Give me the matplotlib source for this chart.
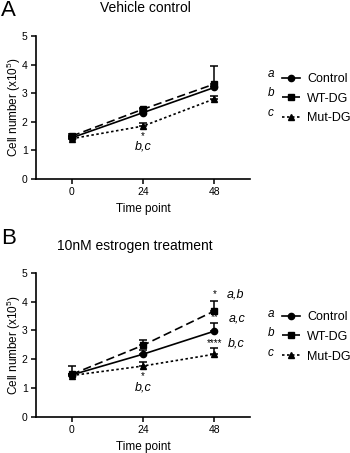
import matplotlib
matplotlib.use("Agg")
import matplotlib.pyplot as plt
import numpy as np

plt.rcParams['font.family'] = ['Liberation Sans', 'DejaVu Sans']
plt.rcParams['mathtext.fontset'] = 'custom'
plt.rcParams['mathtext.rm'] = 'Liberation Sans'

time_points = [0, 24, 48]
series_names = ["Control", "WT-DG", "Mut-DG"]
series_letters = ["a", "b", "c"]

# Panel A: Vehicle control (mean, upper SEM)
a_control = [1.44, 2.32, 3.20]
a_control_err = [0.05, 0.06, 0.06]
a_wtdg = [1.50, 2.44, 3.32]
a_wtdg_err = [0.06, 0.06, 0.62]
a_mutdg = [1.41, 1.85, 2.80]
a_mutdg_err = [0.05, 0.11, 0.09]

# Panel B: 10nM estrogen treatment (mean, upper SEM)
b_control = [1.45, 2.17, 2.97]
b_control_err = [0.05, 0.16, 0.28]
b_wtdg = [1.47, 2.48, 3.67]
b_wtdg_err = [0.30, 0.18, 0.34]
b_mutdg = [1.43, 1.76, 2.17]
b_mutdg_err = [0.05, 0.15, 0.20]

yticks = [0, 1, 2, 3, 4, 5]

W, H = 350, 453
fig = plt.figure(figsize=(W / 100, H / 100), dpi=100)

def fx(px):
    return px / W

def fy(py):
    return 1 - py / H

styles = [
    dict(ls='-', marker='o', ms=4.5),
    dict(ls=(0, (5, 2.5)), marker='s', ms=4.5),
    dict(ls=(0, (1.5, 1.5)), marker='^', ms=4.5),
]

def panel(ax, data):
    handles = []
    for (vals, errs), st, name in zip(data, styles, series_names):
        h = ax.errorbar(time_points, vals, yerr=[np.zeros(len(errs)), errs],
                        color='black', lw=1.2,
                        ls=st['ls'], marker=st['marker'], ms=st['ms'],
                        capsize=3, elinewidth=1.1, capthick=1.1, label=name)
        h[-1][0].set_linestyle('-')
        handles.append(h[0])
    ax.set_xlim(-12, 60)
    ax.set_ylim(0, 5)
    ax.set_xticks(time_points)
    ax.set_yticks(yticks)
    ax.spines['top'].set_visible(False)
    ax.spines['right'].set_visible(False)
    for s in ['left', 'bottom']:
        ax.spines[s].set_linewidth(1.2)
    ax.tick_params(axis='both', direction='out', length=3.5, width=1.1,
                   labelsize=7.5, pad=2.5)
    ax.set_xlabel("Time point", fontsize=8.5, labelpad=4)
    ax.set_ylabel("Cell number (x10$^{5}$)", fontsize=8.5)
    ax.yaxis.set_label_coords(-0.062, 0.5)
    return handles

axA = fig.add_axes([fx(36), fy(179), fx(250) - fx(36), fy(36) - fy(179)])
hA = panel(axA, [(a_control, a_control_err), (a_wtdg, a_wtdg_err), (a_mutdg, a_mutdg_err)])

axB = fig.add_axes([fx(36), fy(416.7), fx(250) - fx(36), fy(272.7) - fy(416.7)])
hB = panel(axB, [(b_control, b_control_err), (b_wtdg, b_wtdg_err), (b_mutdg, b_mutdg_err)])

for hs, top in [(hA, 73), (hB, 311)]:
    fig.legend(hs, series_names, loc='upper left',
               bbox_to_anchor=(fx(282), fy(top)), frameon=False,
               fontsize=9, handlelength=1.4, handletextpad=0.6,
               labelspacing=0.62, borderpad=0, borderaxespad=0)

# letters next to legend
for ys in [(74, 93.3, 112.7), (314, 332.7, 352.7)]:
    for letter, y in zip(series_letters, ys):
        fig.text(fx(271), fy(y), letter, style='italic', fontsize=8.5,
                 ha='center', va='center')

# Panel titles and letters
fig.text(fx(1), fy(11), "A", fontsize=16, ha='left', va='center')
fig.text(fx(145), fy(8), "Vehicle control", fontsize=10, ha='center', va='center')
fig.text(fx(1), fy(238), "B", fontsize=16, ha='left', va='center')
fig.text(fx(135), fy(246), "10nM estrogen treatment", fontsize=10, ha='center', va='center')

def star(ax, x, y, s, dy):
    ax.annotate(s, (x, y), xytext=(0, dy), textcoords='offset points',
                ha='center', va='center', fontsize=7)

def lab(ax, x, y, s, dx, dy, ha='center'):
    ax.annotate(s, (x, y), xytext=(dx, dy), textcoords='offset points',
                ha=ha, va='center', fontsize=9, style='italic')

# Significance annotations, panel A
star(axA, 24, a_mutdg[1], "*", -7)
lab(axA, 24, a_mutdg[1], "b,c", 0, -15)

# Significance annotations, panel B
star(axB, 24, b_mutdg[1], "*", -7)
lab(axB, 24, b_mutdg[1], "b,c", 0, -15.5)

star(axB, 48, b_wtdg[2] + b_wtdg_err[2], "*", 5)
lab(axB, 48, b_wtdg[2] + b_wtdg_err[2], "a,b", 9, 5, ha='left')
star(axB, 48, b_control[2] + b_control_err[2], "**", 4.5)
lab(axB, 48, b_control[2] + b_control_err[2], "a,c", 10, 3.6, ha='left')
star(axB, 48, b_mutdg[2] + b_mutdg_err[2], "****", 4)
lab(axB, 48, b_mutdg[2] + b_mutdg_err[2], "b,c", 10, 3.6, ha='left')

fig.savefig("out.png", dpi=100)
